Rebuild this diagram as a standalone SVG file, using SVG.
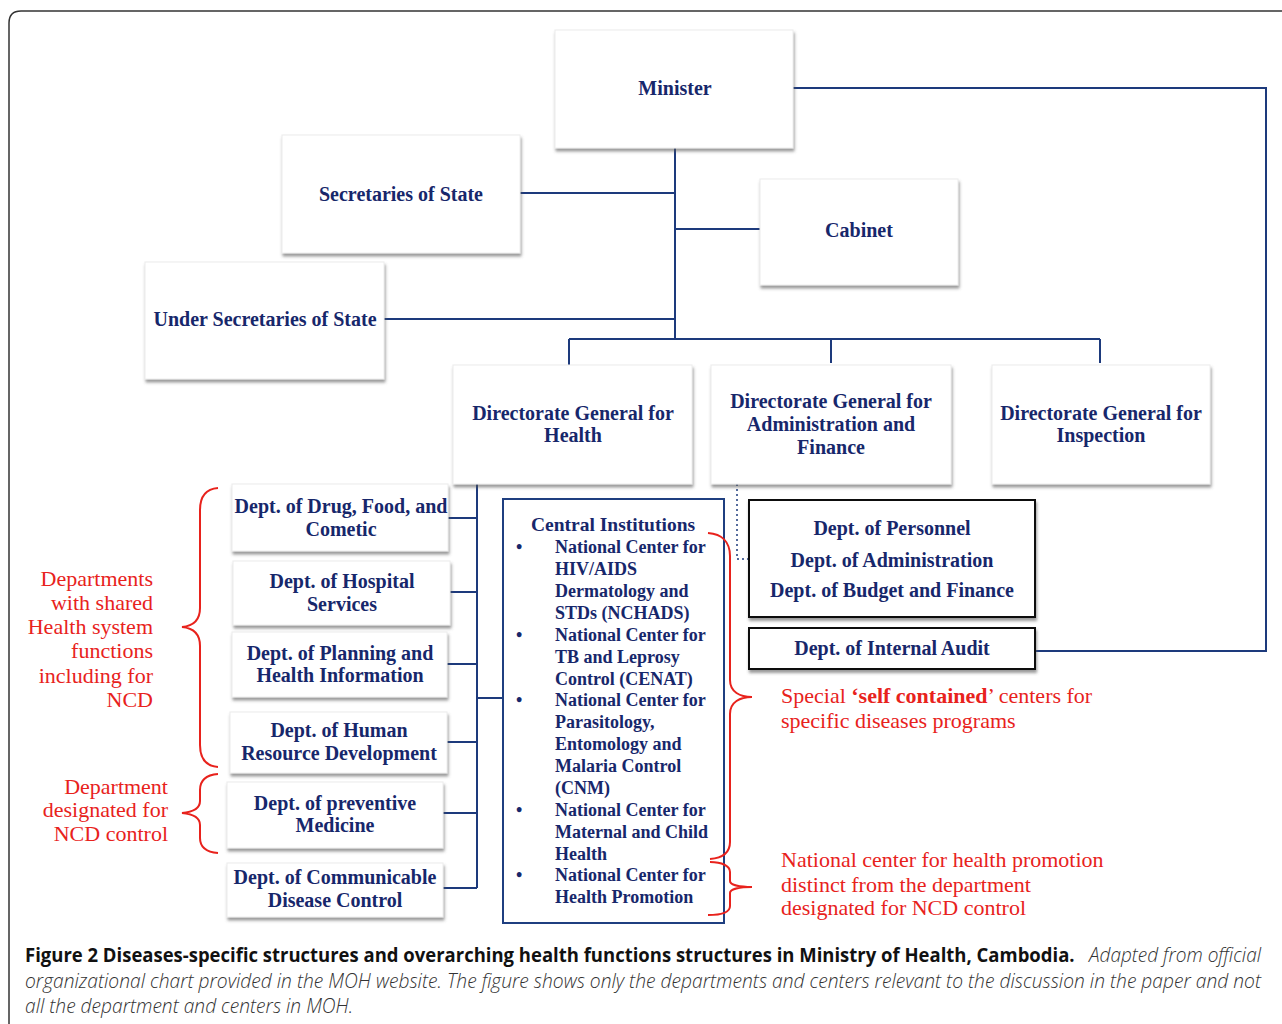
<svg xmlns="http://www.w3.org/2000/svg" width="1282" height="1024" viewBox="0 0 1282 1024">
<defs>
<filter id="sh" x="-10%" y="-10%" width="125%" height="135%">
<feDropShadow dx="1" dy="3" stdDeviation="1.6" flood-color="#555" flood-opacity="0.6"/>
</filter>
<style>
.box{fill:#fff;stroke:#ececec;stroke-width:1;filter:url(#sh)}
.bbox{fill:#fff;stroke:#111;stroke-width:2;filter:url(#sh)}
.cbox{fill:#fff;stroke:#1f3f80;stroke-width:2}
.ln{fill:none;stroke:#1d3a7c;stroke-width:2}
.dot{fill:none;stroke:#1d3a7c;stroke-width:1.5;stroke-dasharray:2 3}
.br{fill:none;stroke:#e8221c;stroke-width:2}
.t{font-family:"Liberation Serif","DejaVu Serif",serif;font-weight:bold;font-size:20px;fill:#17276b;text-anchor:middle}
.ci{font-family:"Liberation Serif","DejaVu Serif",serif;font-weight:bold;font-size:18px;fill:#17276b}
.r{font-family:"Liberation Serif","DejaVu Serif",serif;font-size:22px;fill:#e8221c}
.re{text-anchor:end}
.cap{font-family:"Open Sans","Liberation Sans",sans-serif;font-size:20px;fill:#111}
.capb{font-weight:bold}
.capi{font-style:italic;font-weight:300;fill:#333}
</style>
</defs>
<rect width="1282" height="1024" fill="#fff"/>
<path d="M9,1030 L9,23 Q9,11 21,11 L1290,11" fill="none" stroke="#333" stroke-width="1.5"/>

<g id="connectors">
<path class="ln" d="M675,148 L675,339"/>
<path class="ln" d="M520,193 L675,193"/>
<path class="ln" d="M675,229 L760,229"/>
<path class="ln" d="M384,319 L675,319"/>
<path class="ln" d="M569,339 L1100,339"/>
<path class="ln" d="M569,339 L569,367"/>
<path class="ln" d="M831,339 L831,363"/>
<path class="ln" d="M1100,339 L1100,363"/>
<path class="ln" d="M793,88 L1266,88 L1266,651 L1035,651"/>
<path class="ln" d="M477,484 L477,888"/>
<path class="ln" d="M448,518 L477,518"/>
<path class="ln" d="M450,592 L477,592"/>
<path class="ln" d="M447,664 L477,664"/>
<path class="ln" d="M447,742 L477,742"/>
<path class="ln" d="M443,813 L477,813"/>
<path class="ln" d="M443,888 L477,888"/>
<path class="ln" d="M477,698 L503,698"/>
<path class="dot" d="M737,484 L737,559 L749,559"/>
</g>

<g id="minister"><rect class="box" x="555" y="30" width="238" height="118"/><text class="t" x="675" y="95">Minister</text></g>
<g id="secretaries"><rect class="box" x="282" y="135" width="238" height="118"/><text class="t" x="401" y="201">Secretaries of State</text></g>
<g id="cabinet"><rect class="box" x="760" y="179" width="198" height="106"/><text class="t" x="859" y="237">Cabinet</text></g>
<g id="under-secretaries"><rect class="box" x="145" y="262" width="239" height="117"/><text class="t" x="265" y="326">Under Secretaries of State</text></g>

<g id="dg-health"><rect class="box" x="453" y="365" width="239" height="119"/><text class="t" x="573" y="420">Directorate General for</text><text class="t" x="573" y="442">Health</text></g>
<g id="dg-admin"><rect class="box" x="711" y="365" width="240" height="119"/><text class="t" x="831" y="408">Directorate General for</text><text class="t" x="831" y="431">Administration and</text><text class="t" x="831" y="454">Finance</text></g>
<g id="dg-inspection"><rect class="box" x="992" y="365" width="218" height="119"/><text class="t" x="1101" y="420">Directorate General for</text><text class="t" x="1101" y="442">Inspection</text></g>

<g id="dept-drug"><rect class="box" x="232" y="484" width="216" height="67"/><text class="t" x="341" y="513">Dept. of Drug, Food, and</text><text class="t" x="341" y="536">Cometic</text></g>
<g id="dept-hospital"><rect class="box" x="233" y="561" width="217" height="64"/><text class="t" x="342" y="588">Dept. of Hospital</text><text class="t" x="342" y="611">Services</text></g>
<g id="dept-planning"><rect class="box" x="232" y="632" width="215" height="65"/><text class="t" x="340" y="660">Dept. of Planning and</text><text class="t" x="340" y="682">Health Information</text></g>
<g id="dept-human"><rect class="box" x="230" y="712" width="217" height="61"/><text class="t" x="339" y="737">Dept. of Human</text><text class="t" x="339" y="760">Resource Development</text></g>
<g id="dept-preventive"><rect class="box" x="227" y="782" width="216" height="66"/><text class="t" x="335" y="810">Dept. of preventive</text><text class="t" x="335" y="832">Medicine</text></g>
<g id="dept-communicable"><rect class="box" x="227" y="863" width="216" height="54"/><text class="t" x="335" y="884">Dept. of Communicable</text><text class="t" x="335" y="907">Disease Control</text></g>

<g id="central-institutions">
<rect class="cbox" x="503" y="499" width="221" height="424"/>
<text class="t" x="613" y="531" style="font-size:19.5px">Central Institutions</text>
<g class="ci">
<text x="516" y="553">•</text><text x="555" y="553">National Center for</text>
<text x="555" y="575">HIV/AIDS</text>
<text x="555" y="597">Dermatology and</text>
<text x="555" y="619">STDs (NCHADS)</text>
<text x="516" y="641">•</text><text x="555" y="641">National Center for</text>
<text x="555" y="663">TB and Leprosy</text>
<text x="555" y="685">Control (CENAT)</text>
<text x="516" y="706">•</text><text x="555" y="706">National Center for</text>
<text x="555" y="728">Parasitology,</text>
<text x="555" y="750">Entomology and</text>
<text x="555" y="772">Malaria Control</text>
<text x="555" y="794">(CNM)</text>
<text x="516" y="816">•</text><text x="555" y="816">National Center for</text>
<text x="555" y="838">Maternal and Child</text>
<text x="555" y="860">Health</text>
<text x="516" y="881">•</text><text x="555" y="881">National Center for</text>
<text x="555" y="903">Health Promotion</text>
</g>
</g>

<g id="dept-admin-group"><rect class="bbox" x="749" y="500" width="286" height="117"/><text class="t" x="892" y="535">Dept. of Personnel</text><text class="t" x="892" y="567">Dept. of Administration</text><text class="t" x="892" y="597">Dept. of Budget and Finance</text></g>
<g id="dept-audit"><rect class="bbox" x="749" y="628" width="286" height="41"/><text class="t" x="892" y="655">Dept. of Internal Audit</text></g>

<g id="annotations">
<path class="br" d="M218,488 C205,489 200,498 200,510 L200,608 C200,620 193,626 182,627 C193,628 200,634 200,646 L200,745 C200,758 205,766 218,767"/>
<path class="br" d="M218,774 C205,775 200,781 200,790 L200,801 C200,808 193,812 182,813 C193,814 200,818 200,825 L200,838 C200,847 205,852 218,853"/>
<path class="br" d="M708,533 C722,534 730,542 730,556 L730,680 C730,692 740,697 752,697 C740,697 730,702 730,714 L730,842 C730,853 722,858 710,859"/>
<path class="br" d="M710,862 C722,862 730,866 730,872 L730,881 C730,885 740,887 752,887 C740,887 730,889 730,893 L730,906 C730,912 722,915 708,915"/>
<text class="r re" x="153" y="586">Departments</text>
<text class="r re" x="153" y="610">with shared</text>
<text class="r re" x="153" y="634">Health system</text>
<text class="r re" x="153" y="658">functions</text>
<text class="r re" x="153" y="683">including for</text>
<text class="r re" x="153" y="707">NCD</text>
<text class="r re" x="168" y="794">Department</text>
<text class="r re" x="168" y="817">designated for</text>
<text class="r re" x="168" y="841">NCD control</text>
<text class="r" x="781" y="703">Special <tspan font-weight="bold">‘self contained</tspan>’ centers for</text>
<text class="r" x="781" y="728">specific diseases programs</text>
<text class="r" x="781" y="867">National center for health promotion</text>
<text class="r" x="781" y="892">distinct from the department</text>
<text class="r" x="781" y="915">designated for NCD control</text>
</g>

<g id="caption" transform="translate(25,0) scale(0.8,1)">
<text class="cap capb" x="0" y="962" textLength="1312" lengthAdjust="spacingAndGlyphs">Figure 2 Diseases-specific structures and overarching health functions structures in Ministry of Health, Cambodia.</text>
<text class="cap capi" x="1330" y="962" textLength="215" lengthAdjust="spacingAndGlyphs">Adapted from official</text>
<text class="cap capi" x="0" y="988" textLength="1545" lengthAdjust="spacingAndGlyphs">organizational chart provided in the MOH website. The figure shows only the departments and centers relevant to the discussion in the paper and not</text>
<text class="cap capi" x="0" y="1013" textLength="410" lengthAdjust="spacingAndGlyphs">all the department and centers in MOH.</text>
</g>
</svg>
